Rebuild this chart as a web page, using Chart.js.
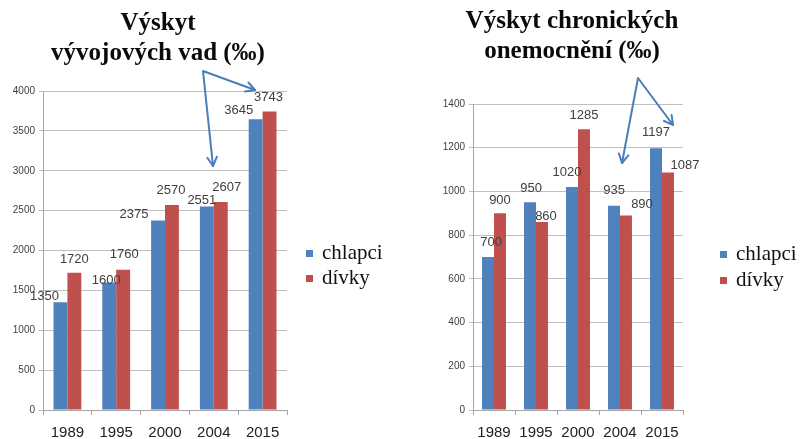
<!DOCTYPE html>
<html lang="cs">
<head>
    <meta charset="UTF-8" />
    <title>Výskyt vývojových vad a chronických onemocnění</title>
    <style>
        body {
            margin: 0;
            padding: 0;
            background-color: #fff;
            width: 801px;
            height: 439px;
            overflow: hidden;
            position: relative;
        }
        .panel {
            position: absolute;
            top: 0;
            width: 400px;
            height: 439px;
        }
        #left { left: 0; }
        #right { left: 400px; width: 401px; }
        .title {
            position: absolute;
            font-family: "Liberation Serif", "Times New Roman", serif;
            font-weight: bold;
            font-size: 25px;
            line-height: 30px;
            text-align: center;
            color: #0a0a0a;
            white-space: nowrap;
            transform: translateX(-50%);
            z-index: 2;
        }
        canvas { position: absolute; left: 0; top: 0; }
    </style>
    <script src="https://cdn.jsdelivr.net/npm/chart.js"></script>
</head>
<body>
    <div class="panel" id="left">
        <canvas id="chart1" width="400" height="439"></canvas>
        <div class="title" style="left:158px; top:7px;">Výskyt<br>vývojových vad (‰)</div>
    </div>
    <div class="panel" id="right">
        <canvas id="chart2" width="401" height="439"></canvas>
        <div class="title" style="left:172px; top:5px;">Výskyt chronických<br>onemocnění (‰)</div>
    </div>
    <script>
        // data
        const years = ["1989", "1995", "2000", "2004", "2015"];
        const seriesNames = ["chlapci", "dívky"];

        const vadyChlapci = [1350, 1600, 2375, 2551, 3645];
        const vadyDivky = [1720, 1760, 2570, 2607, 3743];

        const chronChlapci = [700, 950, 1020, 935, 1197];
        const chronDivky = [900, 860, 1285, 890, 1087];

        const blue = "#4f81bd";
        const red = "#c0504d";

        // label nudges (dx, dy from bar top), like Excel moved them
        const nudges1 = [
            [[-16, -6], [-3, -2], [-24, -6], [-5, -6], [-17, -9]],
            [[0, -13], [1, -15], [-1, -15], [6, -15], [-1, -14]],
        ];
        const nudges2 = [
            [[3, -15], [1, -14], [-5, -15], [0, -15], [0, -16]],
            [[0, -13], [4, -6], [0, -14], [16, -11], [17, -7]],
        ];

        // arrows: [apex, tip1, tip2] in canvas px
        const arrows1 = [[203, 71], [255, 90], [213, 166]];
        const arrows2 = [[238, 78], [273, 125], [222, 163]];

        function valueLabels(nudges) {
            return {
                id: "valueLabels",
                afterDatasetsDraw(chart) {
                    const ctx = chart.ctx;
                    ctx.save();
                    ctx.font = "13px 'Liberation Sans', Arial, sans-serif";
                    ctx.fillStyle = "#404040";
                    ctx.textAlign = "center";
                    ctx.textBaseline = "middle";
                    chart.data.datasets.forEach((ds, i) => {
                        const meta = chart.getDatasetMeta(i);
                        meta.data.forEach((bar, j) => {
                            const n = nudges[i][j];
                            ctx.fillText(ds.data[j], bar.x + n[0], bar.y + n[1]);
                        });
                    });
                    ctx.restore();
                },
            };
        }

        // legend drawn next to the plot, x = box position, y = first row
        function sideLegend(x, y, rowGap) {
            return {
                id: "sideLegend",
                afterDraw(chart) {
                    const ctx = chart.ctx;
                    ctx.save();
                    ctx.font = "21px 'Liberation Serif', 'Times New Roman', serif";
                    ctx.textBaseline = "middle";
                    ctx.textAlign = "left";
                    chart.data.datasets.forEach((ds, i) => {
                        const yy = y + i * rowGap;
                        ctx.fillStyle = ds.backgroundColor;
                        ctx.fillRect(x - 3, yy - 3, 7, 7);
                        ctx.fillStyle = "#111";
                        ctx.fillText(ds.label, x + 13, yy);
                    });
                    ctx.restore();
                },
            };
        }

        function drawArrowHead(ctx, from, to) {
            const ang = Math.atan2(to[1] - from[1], to[0] - from[0]);
            const len = 10;
            ctx.beginPath();
            ctx.moveTo(to[0] - len * Math.cos(ang - 0.5), to[1] - len * Math.sin(ang - 0.5));
            ctx.lineTo(to[0], to[1]);
            ctx.lineTo(to[0] - len * Math.cos(ang + 0.5), to[1] - len * Math.sin(ang + 0.5));
            ctx.stroke();
        }

        function arrowPlugin(pts) {
            return {
                id: "arrows",
                afterDraw(chart) {
                    const ctx = chart.ctx;
                    ctx.save();
                    ctx.strokeStyle = "#4a7ebb";
                    ctx.lineWidth = 2;
                    ctx.lineCap = "round";
                    ctx.lineJoin = "round";
                    ctx.beginPath();
                    ctx.moveTo(pts[1][0], pts[1][1]);
                    ctx.lineTo(pts[0][0], pts[0][1]);
                    ctx.lineTo(pts[2][0], pts[2][1]);
                    ctx.stroke();
                    drawArrowHead(ctx, pts[0], pts[1]);
                    drawArrowHead(ctx, pts[0], pts[2]);
                    ctx.restore();
                },
            };
        }

        function makeChart(id, dataA, dataB, maxY, stepY, pad, nudges, arrows, legendPos) {
            const ctx = document.getElementById(id).getContext("2d");
            return new Chart(ctx, {
                type: "bar",
                data: {
                    labels: years,
                    datasets: [
                        { label: seriesNames[0], data: dataA, backgroundColor: blue },
                        { label: seriesNames[1], data: dataB, backgroundColor: red },
                    ],
                },
                options: {
                    responsive: false,
                    animation: false,
                    layout: { padding: pad },
                    datasets: {
                        bar: { categoryPercentage: 0.57, barPercentage: 1.0 },
                    },
                    plugins: {
                        legend: { display: false },
                        tooltip: { enabled: false },
                    },
                    scales: {
                        x: {
                            afterFit: (s) => { s.height = 29; },
                            grid: {
                                offset: true,
                                drawOnChartArea: false,
                                color: "#a6a6a6",
                                tickLength: 5,
                            },
                            border: { color: "#a6a6a6" },
                            ticks: {
                                color: "#222",
                                padding: 9,
                                font: { family: "'Liberation Sans', Arial, sans-serif", size: 15 },
                            },
                        },
                        y: {
                            min: 0,
                            max: maxY,
                            afterFit: (s) => { s.width = 38; },
                            grid: { color: "#bfbfbf", tickLength: 4 },
                            border: { color: "#a6a6a6" },
                            ticks: {
                                stepSize: stepY,
                                color: "#404040",
                                padding: 4,
                                callback: (v) => String(v),
                                font: { family: "'Liberation Sans', Arial, sans-serif", size: 10 },
                            },
                        },
                    },
                },
                plugins: [
                    valueLabels(nudges),
                    arrowPlugin(arrows),
                    sideLegend(legendPos[0], legendPos[1], legendPos[2]),
                ],
            });
        }

        makeChart("chart1", vadyChlapci, vadyDivky, 4000, 500,
            { top: 91, left: 5, right: 113, bottom: 0 }, nudges1, arrows1, [309, 253, 25]);
        makeChart("chart2", chronChlapci, chronDivky, 1400, 200,
            { top: 104, left: 35, right: 118, bottom: 0 }, nudges2, arrows2, [323, 254, 26]);
    </script>
</body>
</html>
